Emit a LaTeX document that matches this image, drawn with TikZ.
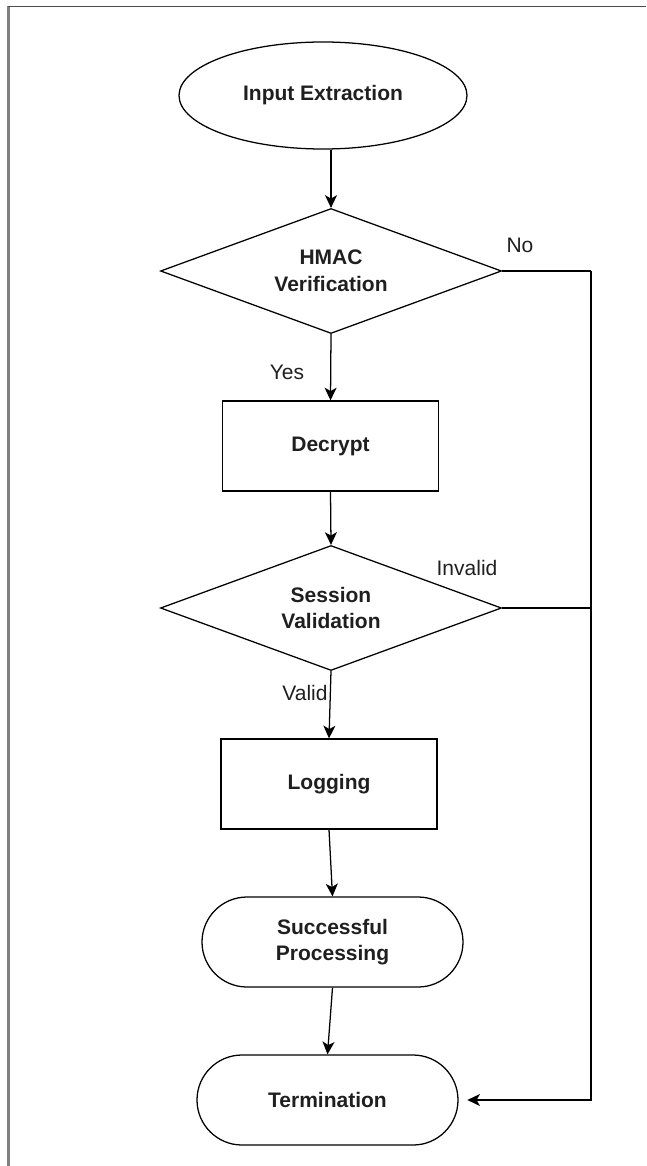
\documentclass[tikz,border=0pt]{standalone}
\usepackage{fontspec}
\setmainfont{Liberation Sans}
\usetikzlibrary{shapes.geometric,arrows.meta}
\newcommand{\pxu}{0.75pt}

\begin{document}
\begin{tikzpicture}[x=\pxu, y=-\pxu, line width=0.95pt,
  font=\fontsize{15.75}{20}\selectfont,
  box/.style={draw, rectangle, inner sep=0pt, align=center, text=black!88,
    font=\fontsize{15.75}{20}\selectfont\bfseries},
  proc/.style={box, minimum width=216*\pxu, minimum height=90*\pxu},
  decide/.style={box, diamond, aspect=2.7, minimum width=341*\pxu,
    minimum height=125*\pxu},
  endbox/.style={box, rounded corners=45*\pxu, minimum width=261*\pxu,
    minimum height=90*\pxu},
  arr/.style={-{Stealth[length=9.5pt, width=9pt, inset=2.5pt]}},
  lbl/.style={inner sep=0pt, text=black!88}]
  % page and frame
  \useasboundingbox (0,0) rectangle (646,1166);
  \fill[black!50] (7,6) rectangle (10,1166);
  \draw[black!70, line width=1.1pt] (8,6.5) -- (646,6.5);
  % steps
  \node[box, ellipse, minimum width=288*\pxu, minimum height=107*\pxu]
    (ext) at (323,95.5) {Input Extraction};
  \node[decide] (hmac) at (331,271) {HMAC\\Verification};
  \node[proc] (dec) at (330.5,446) {Decrypt};
  \node[decide] (sess) at (331,608) {Session\\Validation};
  \node[proc] (log) at (329,784) {Logging};
  \node[endbox] (succ) at (332.5,942) {Successful\\Processing};
  \node[endbox] (term) at (327.5,1100) {Termination};
  % main flow
  \draw[arr] (ext.south -| hmac.north) -- (hmac.north);
  \draw[arr] (hmac.south) -- (dec.north);
  \draw[arr] (dec.south) -- (sess.north);
  \draw[arr] (sess.south) -- (log.north);
  \draw[arr] (log.south) -- (succ.north);
  \draw[arr] (succ.south) -- (term.north);
  % failure branch
  \coordinate (bus) at (591,271);
  \draw (hmac.east) -- (bus);
  \draw (sess.east) -- (sess.east -| bus);
  \draw[arr, shorten >=6.5pt] (bus) |- (term.east);
  % branch labels
  \node[lbl] (lno) at (520,245) {No};
  \node[lbl] (lyes) at (287,372) {Yes};
  \node[lbl] (linv) at (467,568) {Invalid};
  \node[lbl] (lval) at (305,693) {Valid};
\end{tikzpicture}
\end{document}
